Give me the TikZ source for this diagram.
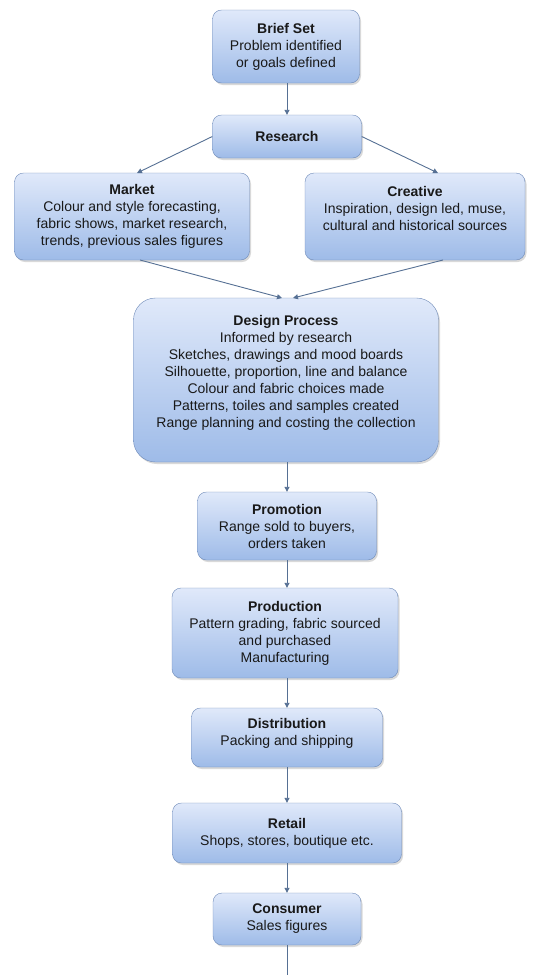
\documentclass[tikz,border=0pt]{standalone}
\usepackage{fontspec}
\setmainfont{Liberation Sans}
\usetikzlibrary{arrows.meta,shadows}
\definecolor{boxline}{RGB}{110,138,184}
\definecolor{boxtop}{RGB}{224,233,250}
\definecolor{boxbot}{RGB}{158,187,232}
\definecolor{linkc}{RGB}{86,112,148}
\definecolor{textc}{RGB}{25,25,25}

\begin{document}
\begin{tikzpicture}[x=1pt,y=-1pt,
    stage/.style={draw=boxline,rounded corners=9pt,top color=boxtop,bottom color=boxbot,
      text=textc,align=center,inner sep=2pt,font=\fontsize{14}{17}\selectfont,
      drop shadow={shadow xshift=1.5pt,shadow yshift=-2pt,opacity=0.3}},
    link/.style={linkc,line width=0.9pt,-{Triangle[length=5pt,width=5pt]}}]
    \useasboundingbox (0,0) rectangle (557,975);
    \node[stage,minimum width=147pt,minimum height=73pt] (brief) at (286,46.5) {\textbf{Brief Set}\\Problem identified\\or goals defined};
    \node[stage,minimum width=149pt,minimum height=43pt] (research) at (287,136.5) {\textbf{Research}};
    \node[stage,minimum width=235pt,minimum height=87pt] (market) at (132,216.5) {\textbf{Market}\\Colour and style forecasting,\\fabric shows, market research,\\trends, previous sales figures};
    \node[stage,minimum width=220pt,minimum height=87pt,text depth=16pt] (creative) at (415,216.5) {\textbf{Creative}\\Inspiration, design led, muse,\\cultural and historical sources};
    \node[stage,rounded corners=22pt,minimum width=305pt,minimum height=164pt,text depth=18pt] (design) at (286,380) {\textbf{Design Process}\\Informed by research\\Sketches, drawings and mood boards\\Silhouette, proportion, line and balance\\Colour and fabric choices made\\Patterns, toiles and samples created\\Range planning and costing the collection};
    \node[stage,minimum width=179pt,minimum height=68pt] (promotion) at (287,526) {\textbf{Promotion}\\Range sold to buyers,\\orders taken};
    \node[stage,minimum width=226pt,minimum height=90pt] (production) at (285,633) {\textbf{Production}\\Pattern grading, fabric sourced\\and purchased\\Manufacturing};
    \node[stage,minimum width=191pt,minimum height=59pt,text depth=12pt] (distribution) at (287,737.5) {\textbf{Distribution}\\Packing and shipping};
    \node[stage,minimum width=229pt,minimum height=60pt] (retail) at (287,833) {\textbf{Retail}\\Shops, stores, boutique etc.};
    \node[stage,minimum width=148pt,minimum height=52pt] (consumer) at (287,919) {\textbf{Consumer}\\Sales figures};
    \coordinate (out) at (287,975);
    \draw[link] (brief.south -| research) -- (research);
    \draw[link] (research.west) -- (137,173);
    \draw[link] (research.east) -- (438,173);
    \draw[link] (140,260) -- (282,298);
    \draw[link] (443,260) -- (293,298);
    \draw[link] (design.south -| promotion) -- (promotion);
    \draw[link] (promotion) -- (production.north -| promotion);
    \draw[link] (production.south -| promotion) -- (distribution);
    \draw[link] (distribution) -- (retail);
    \draw[link] (retail) -- (consumer);
    \draw[linkc,line width=0.9pt] (consumer) -- (out);
\end{tikzpicture}
\end{document}
